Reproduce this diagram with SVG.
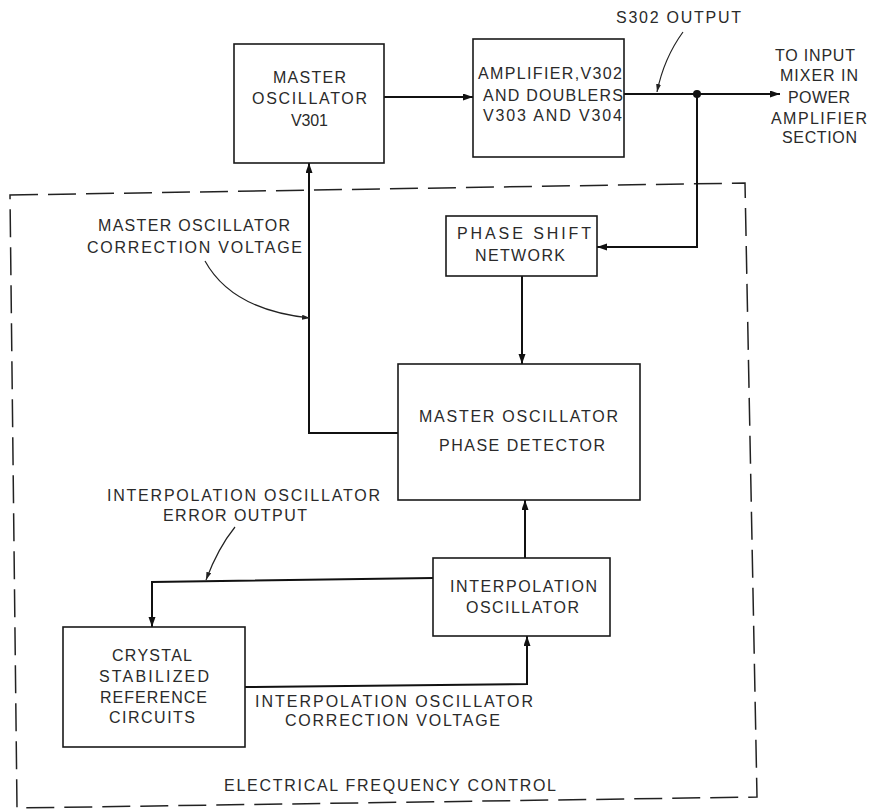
<svg xmlns="http://www.w3.org/2000/svg" width="870" height="811" viewBox="0 0 870 811">
<defs>
<style>
.box{fill:none;stroke:#1a1a1a;stroke-width:1.6}
.wire{fill:none;stroke:#111;stroke-width:2}
.lead{fill:none;stroke:#222;stroke-width:1.2}
.dash{fill:none;stroke:#222;stroke-width:1.5;stroke-dasharray:28 10}
text{font-family:"Liberation Sans",Arial,sans-serif;font-size:16px;fill:#2a2a2a}
</style>
<marker id="arr" markerUnits="userSpaceOnUse" markerWidth="11" markerHeight="8" refX="10" refY="3.5" orient="auto">
<path d="M0,0 L10,3.5 L0,7 z" fill="#111"/>
</marker>
<marker id="arrs" markerUnits="userSpaceOnUse" markerWidth="9" markerHeight="6" refX="8" refY="2.5" orient="auto">
<path d="M0,0 L8,2.5 L0,5 z" fill="#222"/>
</marker>
</defs>
<rect width="870" height="811" fill="#fff"/>

<g id="efc-border">
<path class="dash" d="M10,195 L745,183 L757,797 L17,808 Z"/>
<text x="224" y="791" textLength="332" lengthAdjust="spacing">ELECTRICAL FREQUENCY CONTROL</text>
</g>

<g id="connectors">
<path class="wire" d="M384,97 L473,97" marker-end="url(#arr)"/>
<path class="wire" d="M624,94 L780,94" marker-end="url(#arr)"/>
<circle cx="697" cy="94" r="4" fill="#111"/>
<path class="wire" d="M697,94 L697,247 L597,247" marker-end="url(#arr)"/>
<path class="wire" d="M522,276 L522,364" marker-end="url(#arr)"/>
<path class="wire" d="M398,433 L309,433 L309,163" marker-end="url(#arr)"/>
<path class="wire" d="M525,558 L525,500" marker-end="url(#arr)"/>
<path class="wire" d="M433,578 L152,582 L152,627" marker-end="url(#arr)"/>
<path class="wire" d="M245,687 L527,684 L527,636" marker-end="url(#arr)"/>
<path class="lead" d="M683,32 Q664,58 657,92" marker-end="url(#arrs)"/>
<path class="lead" d="M205,261 Q232,310 310,318" marker-end="url(#arrs)"/>
<path class="lead" d="M235,527 Q218,548 206,580" marker-end="url(#arrs)"/>
</g>

<g id="labels">
<text x="616" y="23" textLength="125" lengthAdjust="spacing">S302 OUTPUT</text>
<text x="775" y="61" textLength="80" lengthAdjust="spacing">TO INPUT</text>
<text x="780" y="81" textLength="78" lengthAdjust="spacing">MIXER IN</text>
<text x="788" y="103" textLength="62" lengthAdjust="spacing">POWER</text>
<text x="771" y="124" textLength="96" lengthAdjust="spacing">AMPLIFIER</text>
<text x="782" y="143" textLength="75" lengthAdjust="spacing">SECTION</text>
<text x="98" y="231" textLength="192" lengthAdjust="spacing">MASTER OSCILLATOR</text>
<text x="87" y="253" textLength="215" lengthAdjust="spacing">CORRECTION VOLTAGE</text>
<text x="107" y="501" textLength="273" lengthAdjust="spacing">INTERPOLATION OSCILLATOR</text>
<text x="163" y="521" textLength="144" lengthAdjust="spacing">ERROR OUTPUT</text>
<text x="255" y="707" textLength="278" lengthAdjust="spacing">INTERPOLATION OSCILLATOR</text>
<text x="285" y="726" textLength="215" lengthAdjust="spacing">CORRECTION VOLTAGE</text>
</g>

<g id="master-oscillator">
<rect class="box" x="234" y="44" width="150" height="119"/>
<text x="273" y="83" textLength="73" lengthAdjust="spacing">MASTER</text>
<text x="252" y="104" textLength="115" lengthAdjust="spacing">OSCILLATOR</text>
<text x="291" y="126" textLength="37" lengthAdjust="spacing">V301</text>
</g>

<g id="amplifier">
<rect class="box" x="473" y="39" width="151" height="118"/>
<text x="478" y="79" textLength="144" lengthAdjust="spacing">AMPLIFIER,V302</text>
<text x="483" y="101" textLength="140" lengthAdjust="spacing">AND DOUBLERS</text>
<text x="483" y="121" textLength="139" lengthAdjust="spacing">V303 AND V304</text>
</g>

<g id="phase-shift-network">
<rect class="box" x="446" y="216" width="151" height="60"/>
<text x="457" y="239" textLength="134" lengthAdjust="spacing">PHASE  SHIFT</text>
<text x="475" y="261" textLength="90" lengthAdjust="spacing">NETWORK</text>
</g>

<g id="phase-detector">
<rect class="box" x="398" y="364" width="242" height="136"/>
<text x="419" y="422" textLength="199" lengthAdjust="spacing">MASTER OSCILLATOR</text>
<text x="439" y="451" textLength="166" lengthAdjust="spacing">PHASE DETECTOR</text>
</g>

<g id="interpolation-oscillator">
<rect class="box" x="433" y="558" width="177" height="78"/>
<text x="450" y="592" textLength="147" lengthAdjust="spacing">INTERPOLATION</text>
<text x="466" y="613" textLength="113" lengthAdjust="spacing">OSCILLATOR</text>
</g>

<g id="crystal-reference">
<rect class="box" x="63" y="627" width="182" height="120"/>
<text x="112" y="661" textLength="80" lengthAdjust="spacing">CRYSTAL</text>
<text x="99" y="682" textLength="110" lengthAdjust="spacing">STABILIZED</text>
<text x="100" y="703" textLength="107" lengthAdjust="spacing">REFERENCE</text>
<text x="109" y="723" textLength="86" lengthAdjust="spacing">CIRCUITS</text>
</g>
</svg>
